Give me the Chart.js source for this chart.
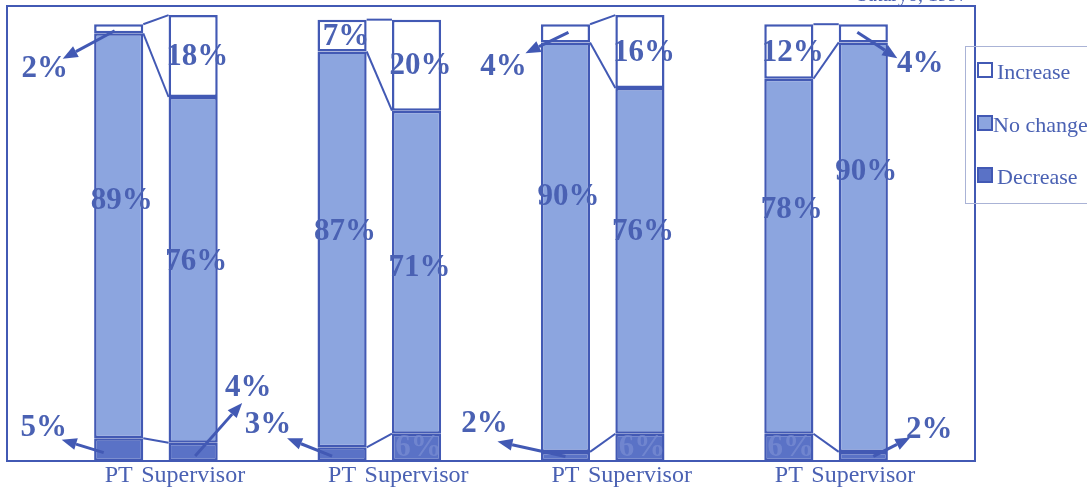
<!DOCTYPE html>
<html>
<head>
<meta charset="utf-8">
<script src="https://cdn.jsdelivr.net/npm/chart.js@4"></script>
<style>
  html, body { margin: 0; padding: 0; background: #fff; }
  #wrap { width: 1087px; height: 489px; }
</style>
</head>
<body>
<div id="wrap"><canvas id="canvas1"></canvas></div>
<script>
// -- data ------------------------------------------------------------------->
const barLabels = ['PT', 'Supervisor', 'PT', 'Supervisor', 'PT', 'Supervisor', 'PT', 'Supervisor'];
const increase = [2, 18, 7, 20, 4, 16, 12, 4];
const noChange = [89, 76, 87, 71, 90, 76, 78, 90];
const decrease = [5, 4, 3, 6, 2, 6, 6, 2];
const seriesNames = ['Increase', 'No change', 'Decrease'];
const sourceNote = 'Sataryo, 1997';

// pairs of bars with an empty slot before, between and after them
function spaced(arr, blank) {
    let out = [blank];
    for (let i = 0; i < arr.length; i += 2) out.push(arr[i], arr[i + 1], blank);
    return out;
}
function slot(i) { return 1 + i + Math.floor(i / 2); }

// -- style ------------------------------------------------------------------>
const BLUE = '#4259b4';
const TEXT = '#4a61b3';
const FONT = '"Liberation Serif", "Times New Roman", serif';
const fills = { inc: '#ffffff', no: '#8ca5df', dec: '#5a72c6' };
const DEC = 0, NO = 1, INC = 2;

// label nudges (pixels) for the "no change" numbers
const noChangeDy = [-35, -8, -17, -4, -50, -29, -46, -75];
// callouts: bar, dataset, arrow start, arrow tip, label centre (relative to segment centre)
const callouts = [
    { bar: 0, ds: INC, from: [-4, 2], tip: [-56, 30], at: [-74, 40] },
    { bar: 0, ds: DEC, from: [-15, 3], tip: [-57, -10], at: [-75, -22] },
    { bar: 1, ds: DEC, from: [2, 4], tip: [49, -49], at: [55, -64] },
    { bar: 2, ds: DEC, from: [-10, 2], tip: [-55, -16], at: [-74, -29] },
    { bar: 4, ds: INC, from: [3, -1], tip: [-40, 20], at: [-62, 34] },
    { bar: 4, ds: DEC, from: [0, 0], tip: [-68, -15], at: [-81, -32] },
    { bar: 7, ds: INC, from: [-6, -1], tip: [34, 25], at: [57, 31] },
    { bar: 7, ds: DEC, from: [10, 0], tip: [47, -19], at: [66, -26] }
];
const insideInc = [1, 2, 3, 5, 6];
const insideDec = [3, 5, 6];

function arrow(ctx, x1, y1, x2, y2) {
    let a = Math.atan2(y2 - y1, x2 - x1);
    let len = 15, w = 6;
    let bx = x2 - len * Math.cos(a), by = y2 - len * Math.sin(a);
    ctx.beginPath();
    ctx.moveTo(x1, y1);
    ctx.lineTo(bx, by);
    ctx.lineWidth = 3;
    ctx.stroke();
    ctx.beginPath();
    ctx.moveTo(x2, y2);
    ctx.lineTo(bx + w * Math.sin(a), by - w * Math.cos(a));
    ctx.lineTo(bx - w * Math.sin(a), by + w * Math.cos(a));
    ctx.closePath();
    ctx.fill();
}

const decorations = {
    id: 'decorations',
    afterDatasetsDraw(chart) {
        const ctx = chart.ctx;
        const area = chart.chartArea;
        const el = (ds, i) => chart.getDatasetMeta(ds).data[slot(i)];
        const values = [decrease, noChange, increase];
        ctx.save();
        ctx.strokeStyle = BLUE;
        ctx.fillStyle = BLUE;

        // plot frame
        ctx.lineWidth = 2;
        ctx.strokeRect(area.left, area.top, area.right - area.left, area.bottom - area.top);

        // connectors between the PT and Supervisor bars
        ctx.lineWidth = 2;
        for (let g = 0; g < 4; g++) {
            for (let ds of [INC, NO, DEC]) {
                let a = el(ds, 2 * g), b = el(ds, 2 * g + 1);
                ctx.beginPath();
                ctx.moveTo(a.x + a.width / 2, a.y);
                ctx.lineTo(b.x - b.width / 2, b.y);
                ctx.stroke();
            }
        }

        ctx.textAlign = 'center';
        ctx.textBaseline = 'middle';
        ctx.font = 'bold 31px ' + FONT;
        ctx.fillStyle = TEXT;
        // no change
        for (let i = 0; i < noChange.length; i++) {
            let e = el(NO, i);
            ctx.fillText(noChange[i] + '%', e.x + 3, (e.y + e.base) / 2 + noChangeDy[i]);
        }
        // increase inside
        for (let i of insideInc) {
            let e = el(INC, i);
            ctx.fillText(increase[i] + '%', e.x + 4, (e.y + e.base) / 2 + 1);
        }
        // decrease inside (faint, dark on dark)
        ctx.fillStyle = 'rgba(120,140,210,0.75)';
        for (let i of insideDec) {
            let e = el(DEC, i);
            ctx.fillText(decrease[i] + '%', e.x + 2, (e.y + e.base) / 2 + 1);
        }

        // callouts with arrows
        ctx.fillStyle = BLUE;
        for (let c of callouts) {
            let e = el(c.ds, c.bar);
            let cx = e.x, cy = (e.y + e.base) / 2;
            arrow(ctx, cx + c.from[0], cy + c.from[1], cx + c.tip[0], cy + c.tip[1]);
            ctx.fillStyle = TEXT;
            ctx.fillText(values[c.ds][c.bar] + '%', cx + c.at[0], cy + c.at[1]);
            ctx.fillStyle = BLUE;
        }

        // legend
        ctx.strokeStyle = '#aab3d6';
        ctx.lineWidth = 1;
        ctx.strokeRect(965.5, 46.5, 140, 157);
        ctx.font = '22px ' + FONT;
        ctx.textAlign = 'left';
        ctx.textBaseline = 'alphabetic';
        let order = [INC, NO, DEC];
        let ys = [63, 116, 168];
        order.forEach((ds, k) => {
            let d = chart.data.datasets[ds];
            ctx.fillStyle = d.backgroundColor;
            ctx.fillRect(978, ys[k], 14, 14);
            ctx.strokeStyle = BLUE;
            ctx.lineWidth = 2;
            ctx.strokeRect(978, ys[k], 14, 14);
            ctx.fillStyle = TEXT;
            ctx.fillText(d.label, k === 1 ? 993 : 997, ys[k] + 16);
        });

        // source note, cut off at the top edge
        ctx.font = '20px ' + FONT;
        ctx.textAlign = 'right';
        ctx.fillStyle = TEXT;
        ctx.fillText(sourceNote, 968, 1);
        ctx.restore();
    }
};

// -- chart ------------------------------------------------------------------>
let ctx1 = document.getElementById('canvas1');

new Chart(ctx1, {
    type: 'bar',
    data: {
        labels: spaced(barLabels, ''),
        datasets: [
            { label: seriesNames[2], data: spaced(decrease, null), backgroundColor: fills.dec },
            { label: seriesNames[1], data: spaced(noChange, null), backgroundColor: fills.no },
            { label: seriesNames[0], data: spaced(increase, null), backgroundColor: fills.inc }
        ].map(d => Object.assign(d, {
            borderColor: BLUE,
            borderWidth: 2.5,
            borderSkipped: false,
            categoryPercentage: 1,
            barPercentage: 0.66
        }))
    },
    options: {
        responsive: true,
        maintainAspectRatio: false,
        animation: false,
        layout: { padding: { left: 7, right: 112, top: 6, bottom: 0 } },
        plugins: { legend: { display: false }, tooltip: { enabled: false } },
        scales: {
            x: {
                stacked: true,
                grid: { display: false, drawTicks: false },
                border: { display: false },
                afterFit(scale) { scale.height = 28; },
                ticks: {
                    autoSkip: false,
                    maxRotation: 0,
                    padding: 3,
                    color: TEXT,
                    font: { family: FONT, size: 24, lineHeight: 1 }
                }
            },
            y: {
                stacked: true,
                display: false,
                min: 0,
                max: 100
            }
        }
    },
    plugins: [decorations]
});
</script>
</body>
</html>
